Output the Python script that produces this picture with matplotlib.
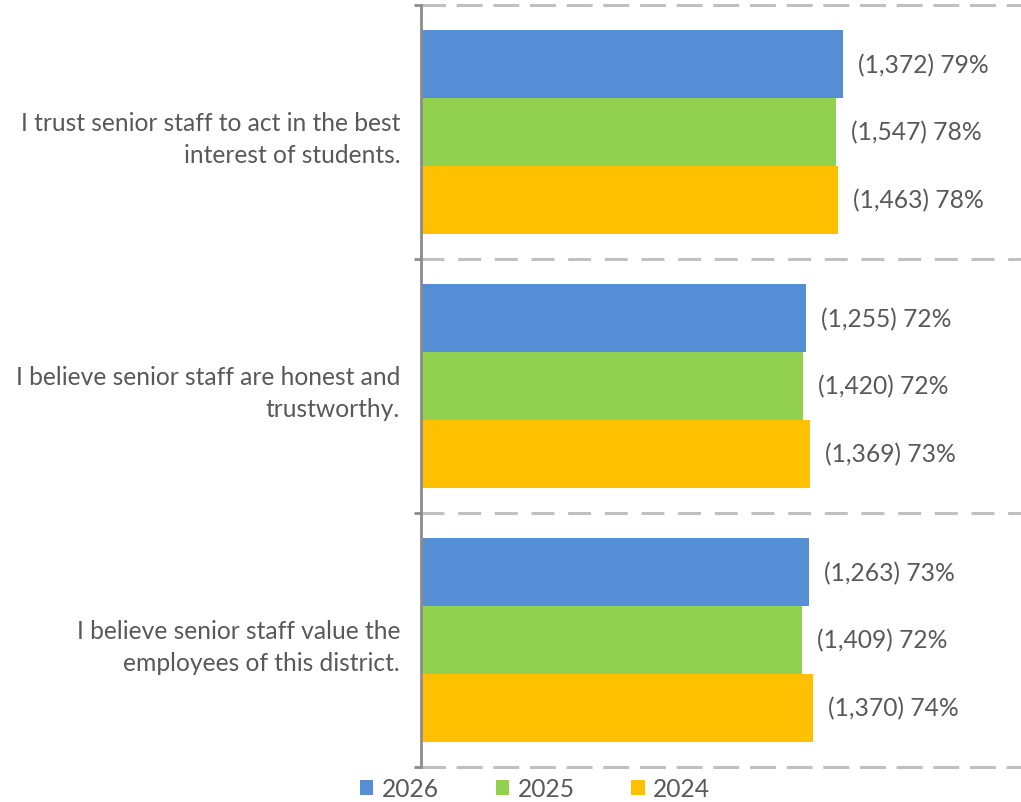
import numpy as np
import matplotlib
matplotlib.use("Agg")
import matplotlib.pyplot as plt

plt.rcParams["font.family"] = ["Lato", "DejaVu Sans"]

# Survey statements (top to bottom)
statements = [
    "I trust senior staff to act in the best\ninterest of students.",
    "I believe senior staff are honest and\ntrustworthy.",
    "I believe senior staff value the\nemployees of this district.",
]

years = ["2026", "2025", "2024"]
colors = ["#558ed5", "#92d050", "#ffc000"]

# Percent agreeing per statement, one list per year
pct_2026 = [79.2, 72.2, 72.8]
pct_2025 = [77.9, 71.6, 71.5]
pct_2024 = [78.2, 73.0, 73.6]

# Number of respondents agreeing
n_2026 = [1372, 1255, 1263]
n_2025 = [1547, 1420, 1409]
n_2024 = [1463, 1369, 1370]

pcts = [pct_2026, pct_2025, pct_2024]
counts = [n_2026, n_2025, n_2024]

text_color = "#595959"
axis_color = "#8c8c8c"
grid_color = "#c0c0c0"
fs = 17.7

fig = plt.figure(figsize=(10.21, 8.03), dpi=100)
ax = fig.add_axes([421 / 1021, 1 - 768 / 803, 1 - 421 / 1021, (768 - 6) / 803])

y = np.arange(len(statements))
bar_h = 0.267

for i, (yr, col) in enumerate(zip(years, colors)):
    offs = y + (i - 1) * bar_h
    bars = ax.barh(offs, pcts[i], height=bar_h, color=col, label=yr)
    for b, p, n in zip(bars, pcts[i], counts[i]):
        ax.annotate(f"({n:,}) {p:.0f}%",
                    xy=(b.get_width(), b.get_y() + b.get_height() / 2),
                    xytext=(11, 0), textcoords="offset points",
                    ha="left", va="center", fontsize=fs, color=text_color)

ax.set_xlim(0, 112.6)
ax.set_ylim(len(statements) - 0.5, -0.5)

# Category labels
ax.set_yticks(y)
ax.set_yticklabels(statements, fontsize=fs, color=text_color)
for lbl in ax.get_yticklabels():
    lbl.set_linespacing(1.45)
ax.tick_params(axis="y", which="major", length=0, pad=15)

# Category separators
ax.set_yticks(np.arange(len(statements) + 1) - 0.5, minor=True)
ax.tick_params(axis="y", which="minor", length=5, width=2, color=axis_color)
ax.grid(axis="y", which="minor", color=grid_color, linewidth=2.2,
        linestyle=(0, (7.5, 4.5)))
ax.set_axisbelow(True)

ax.set_xticks([])
ax.spines["right"].set_visible(False)
for s in ["top", "bottom"]:
    ax.spines[s].set_color(grid_color)
    ax.spines[s].set_linewidth(2.2)
    ax.spines[s].set_linestyle((0, (7.5, 4.5)))
ax.spines["left"].set_color(axis_color)
ax.spines["left"].set_linewidth(2)
ax.spines["left"].set_zorder(5)

fig.legend(loc="center", bbox_to_anchor=(0.524, 1 - 790 / 803), ncol=3,
           frameon=False, fontsize=fs, labelcolor=text_color,
           handlelength=0.55, handleheight=0.55, handletextpad=0.35,
           columnspacing=2.3, borderpad=0.1)

fig.savefig("out.png", dpi=100)
